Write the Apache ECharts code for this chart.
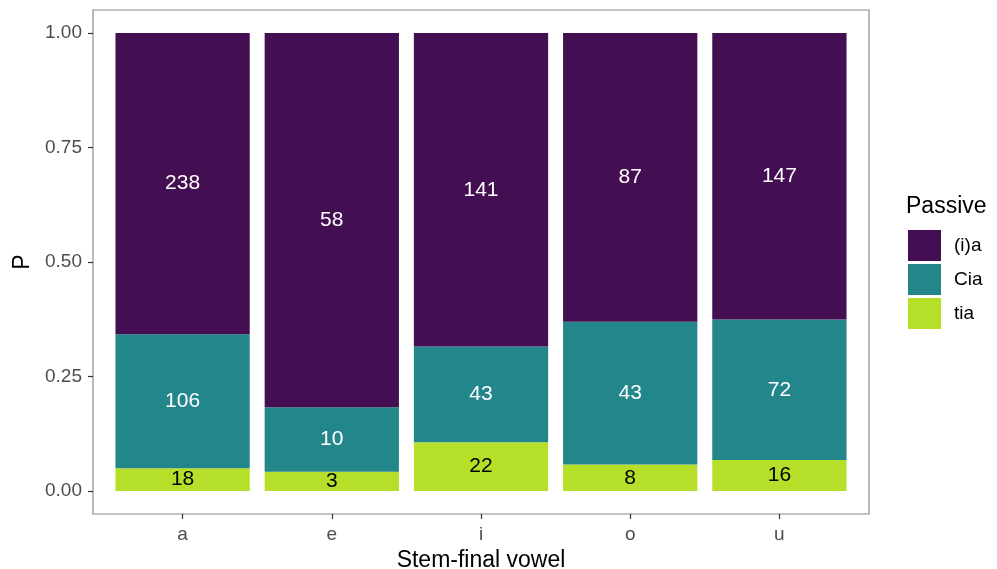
<!DOCTYPE html>
<html>
<head>
<meta charset="utf-8">
<script src="https://cdn.jsdelivr.net/npm/echarts@6/dist/echarts.min.js"></script>
<style>
html,body{margin:0;padding:0;background:#fff;}
#chart{width:997px;height:569px;}
</style>
</head>
<body>
<div id="chart"></div>
<script>
var categories = ['a', 'e', 'i', 'o', 'u'];
var seriesNames = ['(i)a', 'Cia', 'tia'];
var countsIa = [238, 58, 141, 87, 147];
var countsCia = [106, 10, 43, 43, 72];
var countsTia = [18, 3, 22, 8, 16];
var yTicks = [0, 0.25, 0.5, 0.75, 1];

var colors = {'(i)a': '#440f52', 'Cia': '#23868b', 'tia': '#b6df2a'};
var labelColors = {'(i)a': '#ffffff', 'Cia': '#ffffff', 'tia': '#000000'};
var FONT = 'Liberation Sans, Arial, Helvetica, sans-serif';

var totals = categories.map(function (c, i) { return countsIa[i] + countsCia[i] + countsTia[i]; });

function makeSeries(name, counts) {
  return {
    name: name,
    type: 'bar',
    stack: 'fill',
    xAxisIndex: 0,
    yAxisIndex: 0,
    barWidth: '90%',
    itemStyle: { color: colors[name] },
    label: {
      show: true,
      position: 'inside',
      color: labelColors[name],
      fontSize: 21,
      fontFamily: FONT,
      formatter: function (p) { return String(counts[p.dataIndex]); }
    },
    emphasis: { disabled: true },
    data: counts.map(function (v, i) { return v / totals[i]; })
  };
}

// panel: left 93, right edge 868.5 -> 5.2 category bands of ~149px
var panelL = 93, panelR = 128, bandPad = 15;

var chart = echarts.init(document.getElementById('chart'), null, { renderer: 'canvas' });
chart.setOption({
  animation: false,
  backgroundColor: '#ffffff',
  title: {
    text: 'Passive',
    left: 906,
    top: 195,
    padding: 0,
    textStyle: { fontSize: 23, fontWeight: 'normal', color: '#000', fontFamily: FONT }
  },
  legend: {
    data: seriesNames,
    orient: 'vertical',
    left: 908,
    top: 230,
    padding: 0,
    itemWidth: 33,
    itemHeight: 31,
    itemGap: 3,
    icon: 'rect',
    selectedMode: false,
    textStyle: { fontSize: 19, color: '#000', fontFamily: FONT, padding: [0, 0, 0, 8] }
  },
  grid: [
    { left: panelL + bandPad, top: 10, right: panelR + bandPad, bottom: 55, show: false,
      outerBoundsMode: 'none', containLabel: false },
    { left: panelL, top: 10, right: panelR, bottom: 55,
      outerBoundsMode: 'none', containLabel: false,
      show: true, borderColor: '#8a8a8a', borderWidth: 1.2, backgroundColor: 'transparent' }
  ],
  xAxis: [
    {
      type: 'category',
      gridIndex: 0,
      data: categories,
      boundaryGap: true,
      name: 'Stem-final vowel',
      nameLocation: 'middle',
      nameGap: 31,
      nameTextStyle: { fontSize: 23, color: '#000', fontFamily: FONT },
      axisLine: { show: false, onZero: false },
      splitLine: { show: false },
      axisTick: { show: true, alignWithLabel: true, length: 5, lineStyle: { color: '#333', width: 1.2 } },
      axisLabel: { fontSize: 19, color: '#4d4d4d', fontFamily: FONT, margin: 11 }
    },
    {
      type: 'value',
      gridIndex: 1,
      show: false,
      min: 0,
      max: 1
    }
  ],
  yAxis: [
    {
      type: 'value',
      gridIndex: 0,
      min: -0.05,
      max: 1.05,
      show: false,
      splitLine: { show: false }
    },
    {
      type: 'value',
      gridIndex: 1,
      min: -0.05,
      max: 1.05,
      name: 'P',
      nameLocation: 'middle',
      nameRotate: 90,
      nameGap: 55,
      nameTextStyle: { fontSize: 23, color: '#000', fontFamily: FONT },
      axisLine: { show: false, onZero: false },
      splitLine: { show: false },
      axisTick: { show: true, customValues: yTicks, length: 5, lineStyle: { color: '#333', width: 1.2 } },
      axisLabel: {
        customValues: yTicks,
        fontSize: 19,
        color: '#4d4d4d',
        fontFamily: FONT,
        margin: 11,
        formatter: function (v) { return v.toFixed(2); }
      }
    }
  ],
  series: [
    makeSeries('tia', countsTia),
    makeSeries('Cia', countsCia),
    makeSeries('(i)a', countsIa)
  ]
});
</script>
</body>
</html>
